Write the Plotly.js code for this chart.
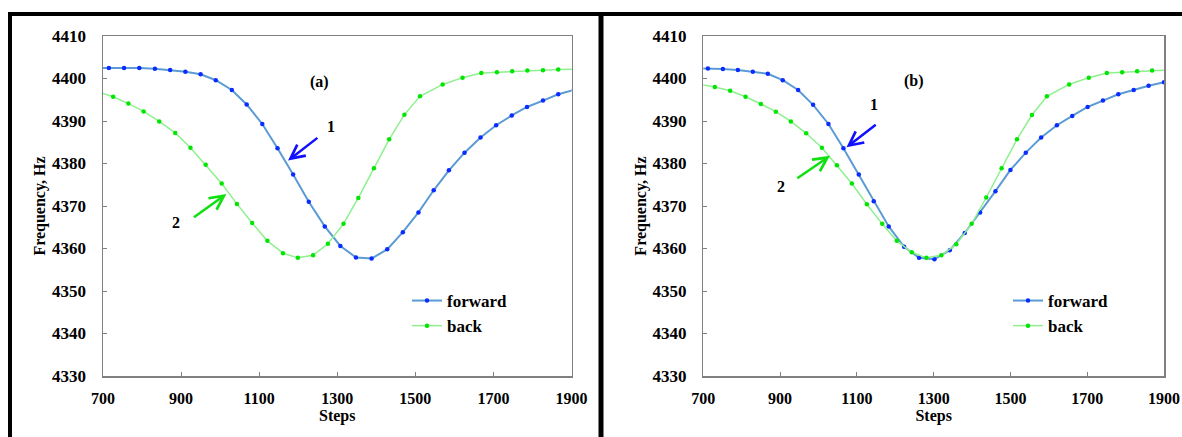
<!DOCTYPE html>
<html>
<head>
<meta charset="utf-8">
<script src="https://cdn.plot.ly/plotly-3.0.1.min.js"></script>
<style>html,body{margin:0;padding:0;background:#fff;}#chart{width:1182px;height:437px;}</style>
</head>
<body>
<div id="chart"></div>
<script>
// Panel (a)
const stepsFwdA = [676,715,754,793,833,872,911,950,989,1030,1068,1108,1147,1187,1227,1268,1308,1348,1388,1428,1468,1508,1547,1586,1626,1667,1707,1747,1786,1827,1866,1906];
const freqFwdA  = [4402.5,4402.5,4402.5,4402.45,4402.3,4402.0,4401.6,4401.0,4399.6,4397.3,4393.9,4389.3,4383.6,4377.4,4371.0,4365.2,4360.6,4357.9,4357.65,4359.8,4363.85,4368.5,4373.7,4378.4,4382.55,4386.1,4389.0,4391.3,4393.3,4394.8,4396.3,4397.3];
const stepsBackA = [686,726,765,804,844,885,924,963,1004,1043,1082,1121,1161,1199,1238,1276,1316,1354,1394,1433,1472,1512,1570,1621,1669,1709,1748,1787,1827,1866,1906];
const freqBackA  = [4396.9,4395.7,4394.1,4392.25,4389.9,4387.2,4383.7,4379.7,4375.3,4370.5,4366.0,4361.8,4358.9,4357.8,4358.4,4361.1,4365.8,4371.9,4378.9,4385.7,4391.5,4395.8,4398.6,4400.2,4401.3,4401.5,4401.7,4401.9,4401.95,4402.1,4402.2];
// Panel (b)
const stepsFwdB = [673,712,751,790,829,868,907,947,986,1026,1065,1105,1144,1183,1223,1262,1302,1342,1381,1421,1461,1500,1540,1580,1621,1661,1701,1741,1781,1821,1860,1900];
const freqFwdB  = [4402.4,4402.35,4402.25,4402.0,4401.6,4401.1,4399.6,4397.3,4393.8,4389.3,4383.6,4377.4,4371.1,4365.2,4360.4,4357.8,4357.5,4359.6,4363.65,4368.5,4373.5,4378.5,4382.55,4386.1,4389.0,4391.2,4393.3,4394.8,4396.3,4397.3,4398.3,4399.1];
const stepsBackB = [690,730,770,810,850,889,928,968,1009,1048,1087,1126,1166,1204,1243,1281,1320,1359,1399,1437,1477,1517,1556,1595,1653,1704,1751,1791,1830,1869,1908];
const freqBackB  = [4398.6,4398.0,4397.1,4395.7,4394.0,4392.2,4389.9,4387.1,4383.7,4379.6,4375.3,4370.4,4365.8,4361.8,4359.1,4357.8,4358.4,4361.0,4365.8,4372.0,4378.9,4385.7,4391.4,4395.8,4398.6,4400.2,4401.3,4401.5,4401.7,4401.9,4401.95];

const seriesNames = ['forward','back'];
const xTickVals = [700,900,1100,1300,1500,1700,1900];
const yTickVals = [4330,4340,4350,4360,4370,4380,4390,4400,4410];
const panelLabels = ['(a)','(b)'];

const FONT = '"Liberation Serif", "Times New Roman", Times, serif';
const blueLine = '#5b9bd5', blueMark = '#0a2cff';
const greenLine = '#8ef08e', greenMark = '#00e600';

function fwd(x, y, xa, ya, leg) {
  return {x, y, xaxis: xa, yaxis: ya, name: seriesNames[0], legend: leg, mode: 'lines+markers',
    line: {color: blueLine, width: 2}, marker: {color: blueMark, size: 4.5}};
}
function back(x, y, xa, ya, leg) {
  return {x, y, xaxis: xa, yaxis: ya, name: seriesNames[1], legend: leg, mode: 'lines+markers',
    line: {color: greenLine, width: 1.5}, marker: {color: greenMark, size: 4.5}};
}
const data = [
  fwd(stepsFwdA, freqFwdA, 'x', 'y', 'legend'),
  back(stepsBackA, freqBackA, 'x', 'y', 'legend'),
  fwd(stepsFwdB, freqFwdB, 'x2', 'y2', 'legend2'),
  back(stepsBackB, freqBackB, 'x2', 'y2', 'legend2')
];

const L = 103, R = 18, T = 36, B = 61, W = 1182, H = 437;
const pw = W - L - R, ph = H - T - B;
const px = v => (v - L) / pw;
const py = v => (H - B - v) / ph;

function xax(domain, anchor) {
  return {domain, anchor, range: [700, 1900], tickvals: xTickVals, ticks: 'inside', ticklen: 4,
    tickcolor: '#808080', linecolor: '#808080', linewidth: 1.5, mirror: true, showgrid: false,
    zeroline: false, ticklabelstandoff: 7,
    tickfont: {family: FONT, size: 16, color: '#000', weight: 'bold'},
    title: {text: 'Steps', font: {family: FONT, size: 16, color: '#000', weight: 'bold'}, standoff: 0}};
}
function yax(anchor) {
  return {domain: [0, 1], anchor, range: [4330, 4410], tickvals: yTickVals, ticks: 'inside', ticklen: 4,
    tickcolor: '#808080', linecolor: '#808080', linewidth: 1.5, mirror: true, showgrid: false,
    zeroline: false, ticklabelstandoff: 12,
    tickfont: {family: FONT, size: 17, color: '#000', weight: 'bold'},
    title: {text: 'Frequency, Hz', font: {family: FONT, size: 16, color: '#000', weight: 'bold'}, standoff: 2}};
}

function txt(text, x, y, xr, yr) {
  return {text, x, y, xref: xr, yref: yr, showarrow: false,
    font: {family: FONT, size: 16, color: '#000', weight: 'bold'}};
}
function arrow(x, y, ax, ay, xr, yr, color) {
  return {text: '', x, y, ax, ay, xref: xr, yref: yr, axref: xr, ayref: yr, showarrow: true,
    arrowhead: 5, arrowsize: 1.1, arrowwidth: 2.5, arrowcolor: color};
}

const annotations = [
  txt(panelLabels[0], 1254, 4399.2, 'x', 'y'),
  txt('1', 1283, 4388.6, 'x', 'y'),
  txt('2', 886, 4366.1, 'x', 'y'),
  arrow(1174, 4380.7, 1253, 4386.3, 'x', 'y', '#1010ff'),
  arrow(1016, 4372.8, 929, 4367.1, 'x', 'y', '#10e010'),
  txt(panelLabels[1], 1248, 4399.4, 'x2', 'y2'),
  txt('1', 1144, 4394.0, 'x2', 'y2'),
  txt('2', 902, 4374.7, 'x2', 'y2'),
  arrow(1073, 4383.8, 1153, 4389.4, 'x2', 'y2', '#1010ff'),
  arrow(1030, 4381.8, 941, 4376.3, 'x2', 'y2', '#10e010')
];

const shapes = [
  {type: 'line', xref: 'paper', yref: 'paper', x0: px(8), x1: px(1182), y0: py(14), y1: py(14), line: {color: '#000', width: 4}},
  {type: 'line', xref: 'paper', yref: 'paper', x0: px(10), x1: px(10), y0: py(14), y1: py(437), line: {color: '#000', width: 4}},
  {type: 'line', xref: 'paper', yref: 'paper', x0: px(601), x1: px(601), y0: py(14), y1: py(437), line: {color: '#000', width: 5}}
];

const legendStyle = {font: {family: FONT, size: 17, color: '#000', weight: 'bold'}, bgcolor: 'rgba(0,0,0,0)',
  itemwidth: 30, xanchor: 'left', yanchor: 'top', tracegroupgap: 0};

const layout = {
  width: W, height: H, margin: {l: L, r: R, t: T, b: B},
  paper_bgcolor: '#fff', plot_bgcolor: '#fff',
  font: {family: FONT, color: '#000'},
  xaxis: xax([0, px(571.5)], 'y'),
  yaxis: yax('x'),
  xaxis2: xax([px(703.3), 1], 'y2'),
  yaxis2: yax('x2'),
  showlegend: true,
  legend: Object.assign({x: px(407), y: py(283)}, legendStyle),
  legend2: Object.assign({x: px(1008), y: py(283)}, legendStyle),
  annotations, shapes
};

Plotly.newPlot('chart', data, layout, {staticPlot: true, displayModeBar: false});
</script>
</body>
</html>
